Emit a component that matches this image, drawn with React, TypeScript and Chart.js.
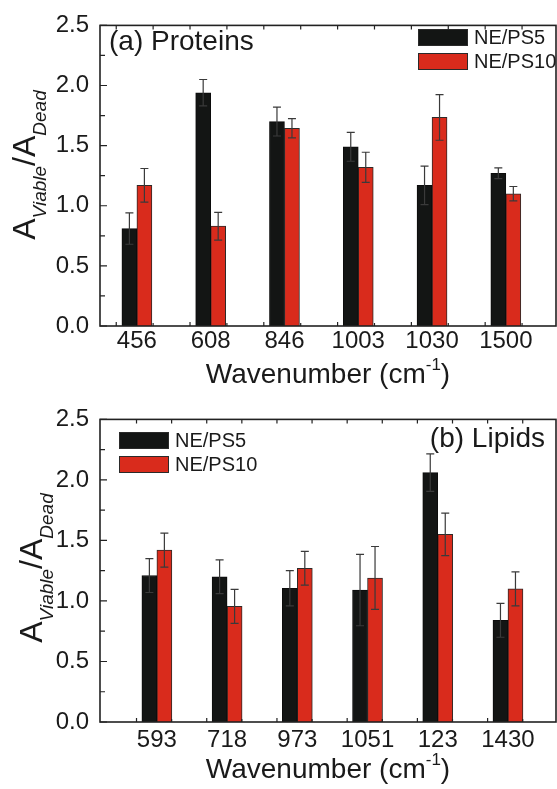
import React, { useEffect, useRef } from 'react';
import { Chart, registerables } from 'chart.js';

Chart.register(...registerables);

// ---------- data ----------
const proteinCategories = ['456', '608', '846', '1003', '1030', '1500'];
const proteinPS5 = [0.81, 1.94, 1.70, 1.49, 1.17, 1.27];
const proteinPS5Err = [0.13, 0.11, 0.12, 0.12, 0.16, 0.045];
const proteinPS10 = [1.17, 0.83, 1.645, 1.32, 1.735, 1.10];
const proteinPS10Err = [0.14, 0.115, 0.08, 0.125, 0.19, 0.06];

const lipidCategories = ['593', '718', '973', '1051', '123', '1430'];
const lipidPS5 = [1.21, 1.20, 1.105, 1.09, 2.06, 0.84];
const lipidPS5Err = [0.14, 0.14, 0.145, 0.295, 0.155, 0.14];
const lipidPS10 = [1.42, 0.955, 1.27, 1.19, 1.55, 1.10];
const lipidPS10Err = [0.14, 0.14, 0.14, 0.26, 0.175, 0.14];

const seriesNames = ['NE/PS5', 'NE/PS10'];
const yMin = 0;
const yMax = 2.5;
const yMajorStep = 0.5;
const yMinorStep = 0.25;

// ---------- styles ----------
const FONT = '"Liberation Sans", Arial, Helvetica, sans-serif';
const TEXT = '#1a1a1a';
const BLACK = '#131514';
const RED = '#d92b1c';
const ERR = '#3a3a3a';

type Panel = {
  top: number;
  height: number;
  padTop: number;
  xMin: number;
  xMax: number;
  tickStart: number;
  categories: string[];
  ps5: number[];
  ps5Err: number[];
  ps10: number[];
  ps10Err: number[];
  label: string;
  labelAlign: CanvasTextAlign;
  labelX: number;
  labelY: number;
  legendX: number;
  legendY: number;
  yTitleX: number;
  yTitleY: number;
  xTitleY: number;
  xTickPad: number;
};

const panels: Panel[] = [
  {
    top: 0, height: 394, padTop: 23, xMin: 0.5, xMax: 6.68, tickStart: 0.72,
    categories: proteinCategories, ps5: proteinPS5, ps5Err: proteinPS5Err,
    ps10: proteinPS10, ps10Err: proteinPS10Err,
    label: '(a) Proteins', labelAlign: 'left', labelX: 109, labelY: 50,
    legendX: 418, legendY: 29, yTitleX: 35, yTitleY: 165, xTitleY: 383, xTickPad: 1,
  },
  {
    top: 394, height: 395, padTop: 25, xMin: 0.19, xMax: 6.684, tickStart: 0.71,
    categories: lipidCategories, ps5: lipidPS5, ps5Err: lipidPS5Err,
    ps10: lipidPS10, ps10Err: lipidPS10Err,
    label: '(b) Lipids', labelAlign: 'right', labelX: 545, labelY: 53,
    legendX: 119, legendY: 38, yTitleX: 42, yTitleY: 174, xTitleY: 384, xTickPad: 4,
  },
];

function makeDecor(p: Panel) {
  return {
    id: 'decor',
    afterDatasetsDraw(chart: any) {
      const ctx: CanvasRenderingContext2D = chart.ctx;
      const ys = chart.scales.y;
      const xs = chart.scales.x;
      const area = chart.chartArea;
      ctx.save();
      // error bars
      chart.data.datasets.forEach((ds: any, di: number) => {
        const meta = chart.getDatasetMeta(di);
        meta.data.forEach((el: any, i: number) => {
          const v = ds.data[i].y;
          const e = ds.errors[i];
          const t = ys.getPixelForValue(v + e);
          const b = ys.getPixelForValue(v - e);
          const x = el.x;
          ctx.strokeStyle = ERR;
          ctx.lineWidth = 1.2;
          ctx.beginPath();
          ctx.moveTo(x, t);
          ctx.lineTo(x, b);
          ctx.moveTo(x - 4, t);
          ctx.lineTo(x + 4, t);
          ctx.moveTo(x - 4, b);
          ctx.lineTo(x + 4, b);
          ctx.stroke();
        });
      });

      // frame
      ctx.strokeStyle = '#222';
      ctx.lineWidth = 1.6;
      ctx.strokeRect(area.left, area.top, area.right - area.left, area.bottom - area.top);

      // y ticks (inward)
      ctx.lineWidth = 1.2;
      ctx.beginPath();
      for (let v = yMin; v <= yMax + 1e-9; v += yMinorStep) {
        const y = ys.getPixelForValue(v);
        const major = Math.abs(v / yMajorStep - Math.round(v / yMajorStep)) < 1e-6;
        ctx.moveTo(area.left, y);
        ctx.lineTo(area.left + (major ? 7 : 5), y);
      }
      // x ticks top & bottom (inward)
      let k = 0;
      for (let v = p.tickStart; v <= p.xMax; v += 0.5, k++) {
        const x = xs.getPixelForValue(v);
        ctx.moveTo(x, area.top);
        ctx.lineTo(x, area.top + 4);
        ctx.moveTo(x, area.bottom);
        ctx.lineTo(x, area.bottom - (k % 2 === 0 ? 4 : 3));
      }
      ctx.stroke();

      // legend
      const colors = [BLACK, RED];
      ctx.font = `20px ${FONT}`;
      ctx.textAlign = 'left';
      ctx.textBaseline = 'alphabetic';
      seriesNames.forEach((name, i) => {
        const y = p.legendY + i * 24;
        ctx.fillStyle = colors[i];
        ctx.fillRect(p.legendX, y, 50, 17);
        ctx.strokeStyle = '#2a2a2a';
        ctx.lineWidth = 1;
        ctx.strokeRect(p.legendX + 0.5, y + 0.5, 49, 16);
        ctx.fillStyle = TEXT;
        ctx.fillText(name, p.legendX + 56, y + 15);
      });

      // panel label
      ctx.font = `28px ${FONT}`;
      ctx.textAlign = p.labelAlign;
      ctx.fillStyle = TEXT;
      ctx.fillText(p.label, p.labelX, p.labelY);

      // y title: A_Viable / A_Dead
      const pieces: [string, string, number][] = [
        ['A', `32px ${FONT}`, 0],
        ['Viable', `italic 19px ${FONT}`, 11],
        ['/', `32px ${FONT}`, 0],
        ['A', `32px ${FONT}`, 0],
        ['Dead', `italic 19px ${FONT}`, 11],
      ];
      let total = 0;
      const widths = pieces.map(([s, f]) => {
        ctx.font = f;
        const w = ctx.measureText(s).width;
        total += w;
        return w;
      });
      ctx.save();
      ctx.translate(p.yTitleX, p.yTitleY);
      ctx.rotate(-Math.PI / 2);
      ctx.textAlign = 'left';
      let u = -total / 2;
      pieces.forEach(([s, f, off], i) => {
        ctx.font = f;
        ctx.fillText(s, u, off);
        u += widths[i];
      });
      ctx.restore();

      // x title: Wavenumber (cm^-1)
      const xp: [string, string, number][] = [
        ['Wavenumber (cm', `28px ${FONT}`, 0],
        ['-1', `17px ${FONT}`, -13],
        [')', `28px ${FONT}`, 0],
      ];
      let tw = 0;
      const xw = xp.map(([s, f]) => {
        ctx.font = f;
        const w = ctx.measureText(s).width;
        tw += w;
        return w;
      });
      let cx = (area.left + area.right) / 2 - tw / 2;
      ctx.textAlign = 'left';
      xp.forEach(([s, f, off], i) => {
        ctx.font = f;
        ctx.fillText(s, cx, p.xTitleY + off);
        cx += xw[i];
      });
      ctx.restore();
    },
  };
}

function PanelChart({ p }: { p: Panel }) {
  const ref = useRef<HTMLCanvasElement | null>(null);
  useEffect(() => {
    if (!ref.current) return;
    const cats = p.categories;
    const chart = new Chart(ref.current, {
      type: 'bar',
      data: {
        datasets: [
          {
            label: seriesNames[0],
            data: cats.map((_, i) => ({ x: i + 1, y: p.ps5[i] })),
            backgroundColor: BLACK,
            borderColor: '#0c0c0c',
            borderWidth: 1,
            barThickness: 15,
            errors: p.ps5Err,
          } as any,
          {
            label: seriesNames[1],
            data: cats.map((_, i) => ({ x: i + 1, y: p.ps10[i] })),
            backgroundColor: RED,
            borderColor: '#2e2a28',
            borderWidth: 1,
            barThickness: 15,
            errors: p.ps10Err,
          } as any,
        ],
      },
      options: {
        animation: false,
        responsive: false,
        maintainAspectRatio: false,
        layout: { padding: { top: p.padTop, right: 1, left: 0, bottom: 0 } },
        plugins: { legend: { display: false }, tooltip: { enabled: false } },
        scales: {
          x: {
            type: 'linear',
            min: p.xMin,
            max: p.xMax,
            offset: false,
            grid: { display: false, drawTicks: false },
            border: { display: false },
            afterBuildTicks: (s: any) => {
              s.ticks = cats.map((_, i) => ({ value: i + 1 }));
            },
            afterFit: (s: any) => {
              s.height = p.height - p.padTop - 303;
            },
            ticks: {
              autoSkip: false,
              maxRotation: 0,
              padding: p.xTickPad,
              color: TEXT,
              font: { size: 24, family: FONT },
              callback: (v: any) => cats[Math.round(Number(v)) - 1] ?? '',
            },
          },
          y: {
            min: yMin,
            max: yMax,
            grid: { display: false, drawTicks: false },
            border: { display: false },
            afterFit: (s: any) => {
              s.width = 100;
            },
            ticks: {
              stepSize: yMajorStep,
              padding: 11,
              color: TEXT,
              font: { size: 24, family: FONT },
              callback: (v: any) => Number(v).toFixed(1),
            },
          },
        },
      } as any,
      plugins: [makeDecor(p)],
    });
    return () => chart.destroy();
  }, [p]);
  return (
    <div style={{ position: 'absolute', left: 0, top: p.top, width: 557, height: p.height }}>
      <canvas ref={ref} width={557} height={p.height} style={{ width: 557, height: p.height, display: 'block' }} />
    </div>
  );
}

export default function App() {
  return (
    <div style={{ position: 'absolute', left: 0, top: 0, width: 557, height: 789, background: '#fff' }}>
      {panels.map((p, i) => (
        <PanelChart key={i} p={p} />
      ))}
    </div>
  );
}
